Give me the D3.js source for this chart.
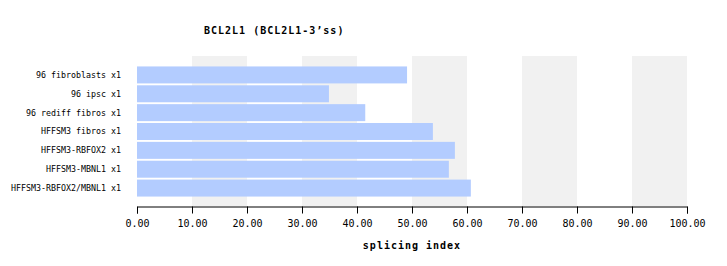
<!DOCTYPE html>
<html>
<head>
<meta charset="utf-8">
<script src="https://cdn.jsdelivr.net/npm/d3@7"></script>
<style>
  body { margin: 0; background: #fff; }
  text { font-family: "DejaVu Sans Mono", "Liberation Mono", monospace; fill: #000; }
</style>
</head>
<body>
<svg id="chart" width="727" height="266"></svg>
<script>
// ---- data ----
const samples = [
  '96 fibroblasts x1',
  '96 ipsc x1',
  '96 rediff fibros x1',
  'HFFSM3 fibros x1',
  'HFFSM3-RBFOX2 x1',
  'HFFSM3-MBNL1 x1',
  'HFFSM3-RBFOX2/MBNL1 x1'
];
const splicingIndex = [49.1, 34.9, 41.5, 53.8, 57.8, 56.7, 60.7];
const xTicks = [0, 10, 20, 30, 40, 50, 60, 70, 80, 90, 100];
const chartTitle = 'BCL2L1 (BCL2L1-3\u2019ss)';
const xTitle = 'splicing index';

// ---- layout ----
const svg = d3.select('#chart');
const plot = { left: 137, right: 687, top: 56, bottom: 206 };

const x = d3.scaleLinear().domain([0, 100]).range([plot.left, plot.right]);
const y = d3.scaleBand()
  .domain(samples)
  .range([plot.top + 9.5, plot.bottom - 8.5])
  .paddingInner(0.1)
  .paddingOuter(0.05);

// alternating grey bands (10-20, 30-40, ...)
const bands = d3.pairs(xTicks).filter((p, i) => i % 2 === 1);
svg.append('g')
  .selectAll('rect')
  .data(bands)
  .enter()
  .append('rect')
  .attr('x', d => x(d[0]))
  .attr('y', plot.top)
  .attr('width', d => x(d[1]) - x(d[0]))
  .attr('height', plot.bottom - plot.top)
  .attr('fill', '#f1f1f1');

// bars
svg.append('g')
  .selectAll('rect')
  .data(samples)
  .enter()
  .append('rect')
  .attr('x', x(0))
  .attr('y', d => y(d))
  .attr('width', (d, i) => x(splicingIndex[i]) - x(0))
  .attr('height', y.bandwidth())
  .attr('fill', '#b3ccff');

// row labels
svg.append('g')
  .selectAll('text')
  .data(samples)
  .enter()
  .append('text')
  .attr('x', 121)
  .attr('y', d => y(d) + y.bandwidth() / 2)
  .attr('dy', '0.35em')
  .attr('text-anchor', 'end')
  .style('font-size', '8.3px')
  .text(d => d);

// x axis
const axis = svg.append('g')
  .attr('transform', `translate(0,${plot.bottom + 0.5})`)
  .call(d3.axisBottom(x)
    .tickValues(xTicks)
    .tickSize(7)
    .tickPadding(6)
    .tickFormat(d3.format('.2f')));
axis.select('.domain').attr('stroke', '#000');
axis.selectAll('.tick line').attr('stroke', '#000');
axis.selectAll('.tick text')
  .style('font-size', '10px')
  .style('font-family', '"DejaVu Sans Mono", monospace');

// titles
svg.append('text')
  .attr('x', 204)
  .attr('y', 34)
  .style('font-size', '10px')
  .style('font-weight', 'bold')
  .style('letter-spacing', '1px')
  .text(chartTitle);

svg.append('text')
  .attr('x', (plot.left + plot.right) / 2)
  .attr('y', 249)
  .attr('text-anchor', 'middle')
  .style('font-size', '10px')
  .style('font-weight', 'bold')
  .style('letter-spacing', '1px')
  .text(xTitle);
</script>
</body>
</html>
